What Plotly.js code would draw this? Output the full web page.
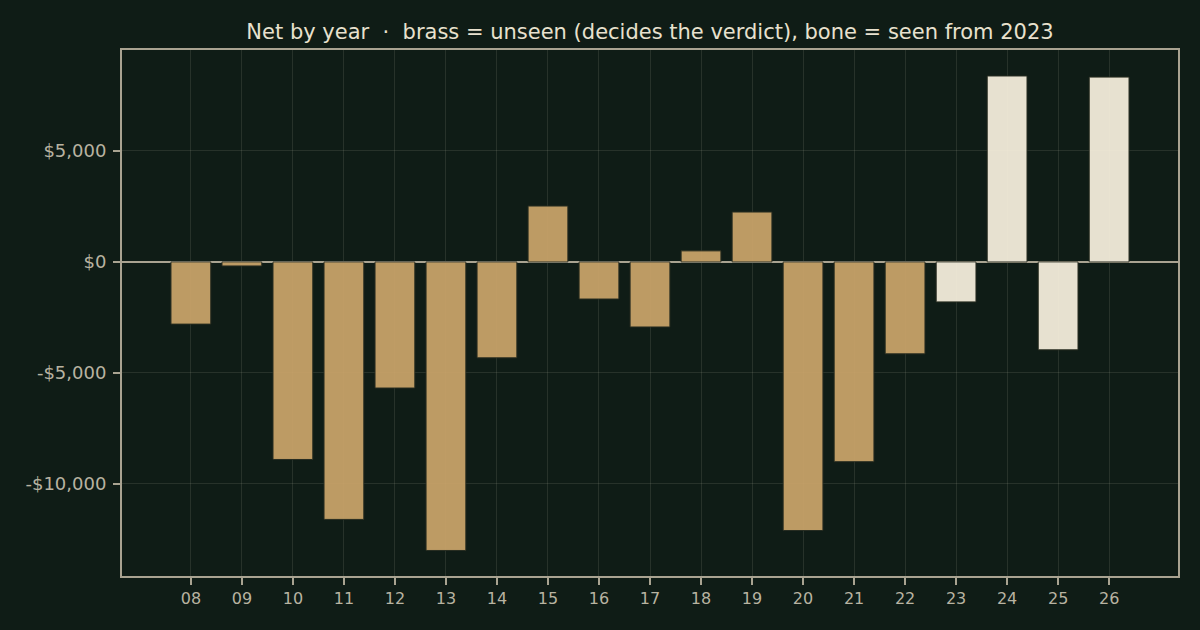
<!DOCTYPE html>
<html>
<head>
<meta charset="utf-8">
<script src="https://cdn.plot.ly/plotly-3.0.1.min.js"></script>
<style>
  html, body { margin: 0; padding: 0; background: #0f1c16; }
  #chart { width: 1200px; height: 630px; }
</style>
</head>
<body>
<div id="chart"></div>
<script>
// years shown on the x axis
const years = ['08', '09', '10', '11', '12', '13', '14', '15', '16', '17',
               '18', '19', '20', '21', '22', '23', '24', '25', '26'];
// net result per year, dollars
const net = [-2800, -180, -8900, -11600, -5680, -13000, -4320, 2520, -1670, -2930,
             500, 2250, -12100, -9000, -4140, -1800, 8380, -3960, 8330];
// first year counted as "seen"
const seenFrom = '23';

const brass = '#cca66b';
const bone = '#faf2e0';
const barColors = years.map(y => (Number(y) >= Number(seenFrom) ? bone : brass));

const data = [{
    type: 'bar',
    x: years,
    y: net,
    marker: {
        color: barColors,
        opacity: 0.92,
        line: { color: '#2a2e22', width: 1 }
    },
    hoverinfo: 'x+y'
}];

const axisColor = '#a9a391';
const gridColor = 'rgba(200,200,180,0.13)';

const layout = {
    width: 1200,
    height: 630,
    paper_bgcolor: '#0f1c16',
    plot_bgcolor: '#0f1c16',
    margin: { l: 122, r: 22, t: 50, b: 54 },
    bargap: 0.22,
    showlegend: false,
    font: { family: 'DejaVu Sans', size: 16, color: '#b8b3a1' },
    title: {
        text: 'Net by year  ·  brass = unseen (decides the verdict), bone = seen from 2023',
        font: { family: 'DejaVu Sans', size: 21, color: '#e8e1ce' },
        xref: 'paper', x: 0.5, xanchor: 'center', y: 0.95, yanchor: 'middle'
    },
    xaxis: {
        type: 'category',
        range: [-1.35, 19.35],
        showgrid: true,
        gridcolor: gridColor,
        gridwidth: 1,
        showline: true,
        linecolor: axisColor,
        linewidth: 2,
        mirror: true,
        ticks: 'outside',
        ticklen: 7,
        tickcolor: axisColor,
        tickwidth: 2,
        tickfont: { size: 16, color: '#b8b3a1' },
        zeroline: false
    },
    yaxis: {
        range: [-14150, 9550],
        tickvals: [-10000, -5000, 0, 5000],
        ticktext: ['-$10,000', '-$5,000', '$0', '$5,000'],
        showgrid: true,
        gridcolor: gridColor,
        gridwidth: 1,
        showline: true,
        linecolor: axisColor,
        linewidth: 2,
        mirror: true,
        ticks: 'outside',
        ticklen: 7,
        tickcolor: axisColor,
        tickwidth: 2,
        ticklabelstandoff: 3,
        tickfont: { size: 18, color: '#b8b3a1' },
        zeroline: true,
        zerolinecolor: axisColor,
        zerolinewidth: 2
    }
};

Plotly.newPlot('chart', data, layout, { displayModeBar: false, staticPlot: true });
</script>
</body>
</html>
